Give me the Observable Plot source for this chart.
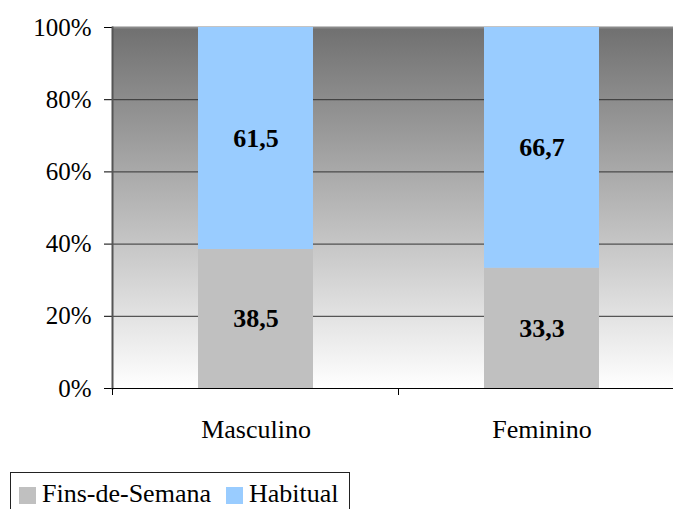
<!DOCTYPE html>
<html>
<head>
<meta charset="utf-8">
<script src="https://cdn.jsdelivr.net/npm/d3@7"></script>
<script src="https://cdn.jsdelivr.net/npm/@observablehq/plot@0.6"></script>
<style>
  html, body { margin: 0; padding: 0; background: #fff; }
  #chart svg { display: block; }
  .legend {
    display: inline-flex; align-items: center;
    margin: 12px 0 0 10px; border: 1px solid #222;
    padding: 6px 10px 4px 8px;
    font-family: 'Liberation Serif', 'Times New Roman', serif; font-size: 26px; line-height: 30px; color: #000;
  }
  .legend .item { display: inline-flex; align-items: center; }
  .legend .item + .item { margin-left: 15px; }
  .legend .sw { width: 17px; height: 17px; margin-right: 6px; margin-top: 3px; }
</style>
</head>
<body>
<div id="chart"></div>
<div id="legend"></div>
<script>
const categories = ["Masculino", "Feminino"];
const seriesNames = ["Fins-de-Semana", "Habitual"];
const finsDeSemana = [38.5, 33.3];
const habitual = [61.5, 66.7];
const yTicks = [0, 20, 40, 60, 80, 100];
const gridLines = [20, 40, 60, 80];
const seriesColors = ["#c0c0c0", "#99ccff"];

const data = categories.flatMap((c, i) => [
  {cat: c, series: seriesNames[0], value: finsDeSemana[i]},
  {cat: c, series: seriesNames[1], value: habitual[i]}
]);
const fmt = v => v.toFixed(1).replace(".", ",");

const plot = Plot.plot({
  width: 673, height: 460,
  marginTop: 27, marginBottom: 72, marginLeft: 112, marginRight: 0,
  style: {fontFamily: "'Liberation Serif', 'Times New Roman', serif", fontSize: "26px", color: "#000", background: "transparent"},
  x: {domain: categories, range: [112, 685], paddingInner: 0.598, paddingOuter: 0.3, label: null},
  y: {domain: [0, 100], label: null},
  color: {domain: seriesNames, range: seriesColors},
  marks: [
    Plot.frame({fill: "url(#bgGrad)", stroke: null}),
    Plot.ruleY(gridLines, {stroke: "#333", strokeWidth: 1}),
    Plot.ruleY([100], {stroke: "#8a8a8a", strokeWidth: 2}),
    Plot.barY(data, Plot.stackY({x: "cat", y: "value", z: "series", fill: "series"})),
    Plot.text(data, Plot.stackY({x: "cat", y: "value", z: "series", text: d => fmt(d.value), fontWeight: "bold", fontSize: 26, fill: "#000"})),
    Plot.axisY({ticks: yTicks, tickFormat: d => d + "%", tickSize: 8, tickPadding: 13, fontSize: 25, label: null}),
    Plot.axisX({tickSize: 0, tickPadding: 31, fontSize: 26, label: null}),
    Plot.frame({anchor: "left", stroke: "#555", strokeWidth: 2}),
    Plot.ruleY([0], {stroke: "#000", strokeWidth: 1})
  ]
});

// gradient background definition
const svg = d3.select(plot);
const grad = svg.insert("defs", ":first-child").append("linearGradient")
  .attr("id", "bgGrad").attr("x1", 0).attr("y1", 0).attr("x2", 0).attr("y2", 1);
grad.append("stop").attr("offset", "0%").attr("stop-color", "#707070");
grad.append("stop").attr("offset", "100%").attr("stop-color", "#ffffff");

// category boundary ticks from the library's x scale
const xs = plot.scale("x");
const yScale = plot.scale("y");
const gap = (xs.step - xs.bandwidth) / 2;
const edges = categories.map(c => xs.apply(c) - gap);
edges.push(xs.apply(categories[categories.length - 1]) + xs.bandwidth + gap);
const y0 = yScale.apply(0);
svg.append("g").selectAll("line").data(edges).join("line")
  .attr("x1", d => d).attr("x2", d => d)
  .attr("y1", y0).attr("y2", y0 + 7)
  .attr("stroke", "#000");

document.getElementById("chart").appendChild(plot);

// legend
const lg = d3.select("#legend").append("div").attr("class", "legend");
seriesNames.forEach((s, i) => {
  const it = lg.append("span").attr("class", "item");
  it.append("span").attr("class", "sw").style("background", seriesColors[i]);
  it.append("span").text(s);
});
</script>
</body>
</html>
